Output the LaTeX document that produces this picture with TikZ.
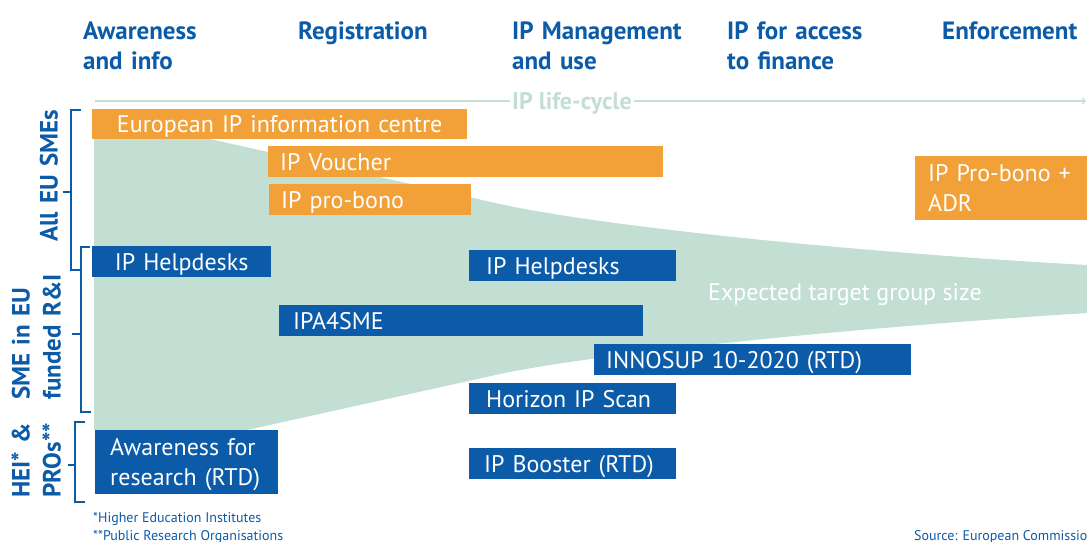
\documentclass[tikz,border=0pt]{standalone}
\usepackage{fontspec}
\setmainfont{PT Sans}
\definecolor{ecblue}{HTML}{0B5BA8}
\definecolor{ecorange}{HTML}{F2A038}
\definecolor{ecgreen}{HTML}{C3DFD4}
\tikzset{
  ecbox/.style={anchor=north west, inner ysep=0pt, inner xsep=13pt, minimum height=31pt,
    text=white, align=left, font=\fontsize{24}{30}\selectfont, text height=16.8pt, text depth=0pt},
  orbox/.style={ecbox, fill=ecorange},
  blbox/.style={ecbox, fill=ecblue},
  phase/.style={anchor=north west, inner sep=0pt, text=ecblue, align=left, text width=180pt,
    font=\fontsize{25}{30}\selectfont\bfseries, text height=17.5pt},
  group/.style={rotate=90, anchor=north west, inner sep=0pt, text=ecblue, align=left, text width=200pt,
    font=\fontsize{25}{31}\selectfont\bfseries, text height=17.5pt},
  brace/.style={draw=ecblue, line width=1.5pt}
}
\begin{document}
\begin{tikzpicture}[x=1pt,y=-1pt]
    \useasboundingbox (0,0) rectangle (1087,541);
    \clip (0,0) rectangle (1087,541);

    % target group funnel
    \fill[ecgreen] (94,139) -- (210,139) -- (500,204) .. controls (600,226) and (850,252) .. (1087,265)
      -- (1087,313) .. controls (850,328) and (600,353) .. (500,374) -- (247,430) -- (94,430) -- cycle;

    \node[phase] (aware) at (83,22) {Awareness\\and info};
    \node[phase] (regis) at (298,22) {Registration};
    \node[phase] (manage) at (512,22) {IP Management\\and use};
    \node[phase] (finance) at (727,22) {IP for access\\to finance};
    \node[phase] (enforce) at (942,22) {Enforcement};

    \coordinate (lcstart) at (95,101);
    \coordinate (lcend) at (1086,101);
    \draw[ecgreen, line width=1.5pt, ->] (lcstart) -- (lcend);
    \node[anchor=base west, fill=white, inner xsep=2pt, text=ecgreen,
      font=\fontsize{24}{30}\selectfont\bfseries] (lifecycle) at (510,109) {IP life-cycle};

    \node[group] (allsme) at (40,242) {All EU SMEs};
    \node[group] (fundsme) at (12,400) {SME in EU\\funded R\&I};
    \node[group] (heipro) at (12,498) {HEI* \&\\PROs**};

    \draw[brace] (81,110) -- (71,110) -- (71,270) -- (81,270) (71,192) -- (63,192);
    \draw[brace] (90,247) -- (81,247) -- (81,412) -- (91,412) (81,334) -- (72,334);
    \draw[brace] (85,422) -- (75,422) -- (75,502) -- (85,502) (75,465) -- (68,465);

    \node[orbox, align=center, text width=349pt, minimum height=30pt] (infocentre) at (92,109) {European IP information centre};
    \node[orbox, inner xsep=12pt, text width=371pt] (voucher) at (268,146) {IP Voucher};
    \node[orbox, inner xsep=12pt, text width=178pt] (probono) at (269,184) {IP pro-bono};
    \node[orbox, text width=170pt, minimum height=64pt, text depth=30pt] (probonoadr) at (915,156) {IP Pro-bono +\\ADR};

    \node[blbox, align=center, text width=153pt] (helpdeskA) at (92,246) {IP Helpdesks};
    \node[blbox, inner xsep=17pt, text width=173pt] (helpdeskB) at (469,250) {IP Helpdesks};
    \node[blbox, inner xsep=14pt, text width=336pt] (ipa) at (279,305) {IPA4SME};
    \node[blbox, inner xsep=12pt, text width=293pt] (innosup) at (594,344) {INNOSUP 10-2020 (RTD)};
    \node[blbox, inner xsep=17pt, text width=173pt] (horizon) at (469,383) {Horizon IP Scan};
    \node[blbox, inner xsep=15pt, text width=177pt] (booster) at (469,448) {IP Booster (RTD)};
    \node[blbox, inner xsep=15pt, text width=153pt, minimum height=64pt, text depth=30pt] (research) at (95,430) {Awareness for\\research (RTD)};

    \node[anchor=base west, inner sep=0pt, text=white, font=\fontsize{24}{30}\selectfont] (target) at (708,300) {Expected target group size};

    \node[anchor=base west, inner sep=0pt, text=ecblue, align=left, font=\fontsize{14}{17.5}\selectfont] (notes) at (93,540) {*Higher Education Institutes\\**Public Research Organisations};
    \node[anchor=base west, inner sep=0pt, text=ecblue, font=\fontsize{14}{17}\selectfont] (source) at (914,540) {Source: European Commission};
\end{tikzpicture}
\end{document}
